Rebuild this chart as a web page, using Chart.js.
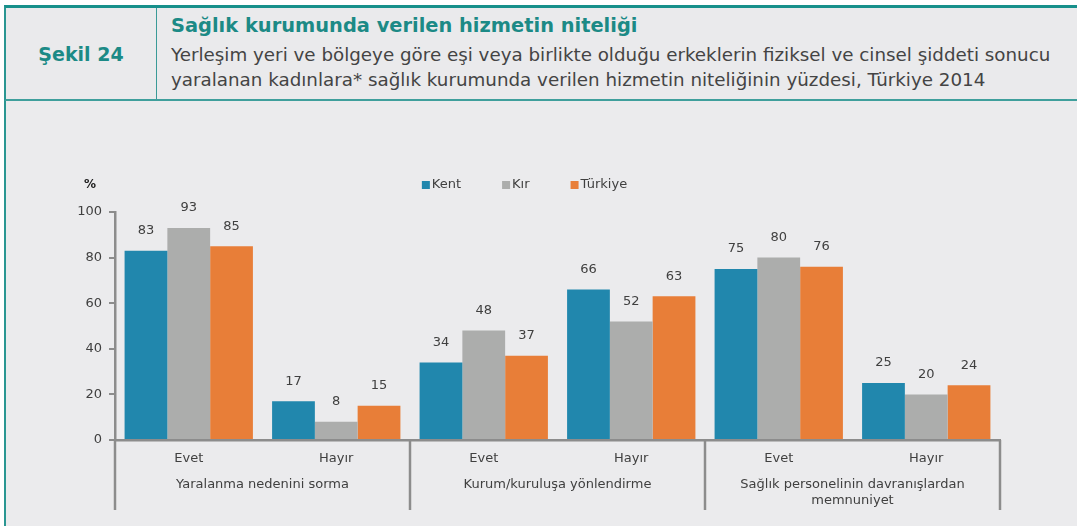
<!DOCTYPE html>
<html>
<head>
<meta charset="utf-8">
<script src="https://cdn.jsdelivr.net/npm/chart.js@4.4.1/dist/chart.umd.min.js"></script>
<style>
  html,body{margin:0;padding:0;background:#ffffff;}
  body{width:1077px;height:526px;position:relative;overflow:hidden;font-family:"DejaVu Sans",sans-serif;}
  #header{position:absolute;left:4px;top:5px;width:1073px;height:91px;background:#eaeaec;border-top:3px solid #17908b;border-left:2px solid #2a9692;border-bottom:2px solid #3f9f9c;}
  #leftcell{position:absolute;left:0;top:0;width:150px;height:91px;border-right:1px solid #3a9a97;display:flex;align-items:center;justify-content:center;color:#1c8a86;font-weight:bold;font-size:19px;}
  #title{position:absolute;left:165px;top:6px;color:#1c8a86;font-weight:bold;font-size:19px;white-space:nowrap;line-height:24px;}
  .sub{position:absolute;left:165px;color:#444444;font-size:16px;white-space:nowrap;line-height:22px;}
  #sub1{top:36px;}
  #sub2{top:61px;}
  #chartbox{position:absolute;left:4px;top:101px;width:1073px;height:425px;background:#ebebed;border-left:2px solid #2a9692;}
  #cv{position:absolute;left:0;top:0;}
</style>
</head>
<body>
<div id="header">
  <div id="leftcell">Şekil 24</div>
  <div id="title">Sağlık kurumunda verilen hizmetin niteliği</div>
  <div class="sub" id="sub1">Yerleşim yeri ve bölgeye göre eşi veya birlikte olduğu erkeklerin fiziksel ve cinsel şiddeti sonucu</div>
  <div class="sub" id="sub2">yaralanan kadınlara* sağlık kurumunda verilen hizmetin niteliğinin yüzdesi, Türkiye 2014</div>
</div>
<div id="chartbox"><canvas id="cv" width="1035" height="425"></canvas></div>
<script>
// ---- data ----
const subLabels = ["Evet", "Hayır", "Evet", "Hayır", "Evet", "Hayır"];
const groupLabels = [["Yaralanma nedenini sorma"], ["Kurum/kuruluşa yönlendirme"], ["Sağlık personelinin davranışlardan", "memnuniyet"]];
const seriesNames = ["Kent", "Kır", "Türkiye"];
const kent = [83, 17, 34, 66, 75, 25];
const kir = [93, 8, 48, 52, 80, 20];
const turkiye = [85, 15, 37, 63, 76, 24];
const yTickValues = [0, 20, 40, 60, 80, 100];
const colors = ["#2187ad", "#acadac", "#e87e38"];

// fit header text widths
function fitWidth(id, target) {
  const el = document.getElementById(id);
  const fs = parseFloat(getComputedStyle(el).fontSize);
  const w = el.getBoundingClientRect().width;
  el.style.fontSize = (fs * target / w) + "px";
}
fitWidth("title", 467);
fitWidth("sub1", 880);
document.getElementById("sub2").style.fontSize = document.getElementById("sub1").style.fontSize;

const FONT = "DejaVu Sans";
const FS = 13;
const TXT = "#404040";
const AXIS = "#8c8c8c";

const dataLabels = {
  id: "dataLabels",
  afterDatasetsDraw(chart) {
    const ctx = chart.ctx;
    ctx.save();
    ctx.font = FS + "px '" + FONT + "'";
    ctx.fillStyle = TXT;
    ctx.textAlign = "center";
    ctx.textBaseline = "middle";
    chart.data.datasets.forEach((ds, di) => {
      const meta = chart.getDatasetMeta(di);
      meta.data.forEach((el, i) => {
        ctx.fillText(String(ds.data[i]), el.x, el.y - 20);
      });
    });
    ctx.restore();
  }
};

const extras = {
  id: "extras",
  afterDraw(chart) {
    const ctx = chart.ctx;
    const x = chart.scales.x, x2 = chart.scales.x2, y = chart.scales.y;
    ctx.save();
    // group dividers
    ctx.strokeStyle = AXIS;
    ctx.lineWidth = 2.5;
    const bounds = [x.left];
    for (let i = 1; i < subLabels.length - 1; i += 2) {
      bounds.push((x.getPixelForValue(i) + x.getPixelForValue(i + 1)) / 2);
    }
    bounds.push(x.right);
    bounds.forEach(b => {
      ctx.beginPath();
      ctx.moveTo(b, x.top);
      ctx.lineTo(b, x2.bottom);
      ctx.stroke();
    });
    // % label
    ctx.fillStyle = "#222";
    ctx.font = "bold 12px '" + FONT + "'";
    ctx.textAlign = "center";
    ctx.textBaseline = "middle";
    ctx.fillText("%", y.right - 25, chart.chartArea.top - 27);
    // legend
    ctx.font = FS + "px '" + FONT + "'";
    ctx.textAlign = "left";
    const items = chart.data.datasets.map(d => ({ label: d.label, color: d.backgroundColor }));
    const box = 8, gapBox = 2, gap = 41;
    let total = 0;
    items.forEach((it, i) => { total += box + gapBox + ctx.measureText(it.label).width + (i < items.length - 1 ? gap : 0); });
    let lx = (chart.width) / 2 - total / 2 + 1;
    const ly = chart.chartArea.top - 27;
    items.forEach(it => {
      ctx.fillStyle = it.color;
      ctx.fillRect(lx, ly - box / 2, box, box);
      lx += box + gapBox;
      ctx.fillStyle = TXT;
      ctx.fillText(it.label, lx, ly);
      lx += ctx.measureText(it.label).width + gap;
    });
    ctx.restore();
  }
};

new Chart(document.getElementById("cv"), {
  type: "bar",
  data: {
    labels: subLabels,
    datasets: [
      { label: seriesNames[0], data: kent, backgroundColor: colors[0] },
      { label: seriesNames[1], data: kir, backgroundColor: colors[1] },
      { label: seriesNames[2], data: turkiye, backgroundColor: colors[2] }
    ]
  },
  options: {
    responsive: false,
    animation: false,
    layout: { autoPadding: false, padding: { left: 68, right: 41, top: 111, bottom: 16 } },
    datasets: { bar: { categoryPercentage: 0.87, barPercentage: 1.0 } },
    plugins: { legend: { display: false }, tooltip: { enabled: false } },
    scales: {
      x: {
        type: "category",
        position: "bottom",
        weight: 0,
        grid: { display: false, drawTicks: true, tickLength: 8 },
        border: { display: true, color: AXIS, width: 2.5 },
        ticks: { color: TXT, font: { family: FONT, size: FS }, padding: 3, maxRotation: 0, autoSkip: false },
        afterFit: s => { s.height = 26; }
      },
      x2: {
        type: "category",
        position: "bottom",
        weight: 1,
        labels: groupLabels,
        offset: true,
        grid: { display: false, drawTicks: false },
        border: { display: false },
        ticks: { color: TXT, font: { family: FONT, size: FS, lineHeight: 1.2 }, padding: 11, maxRotation: 0, autoSkip: false },
        afterFit: s => { s.height = 44; }
      },
      y: {
        min: 0, max: 100,
        afterBuildTicks: s => { s.ticks = yTickValues.map(v => ({ value: v })); },
        grid: { drawOnChartArea: false, drawTicks: true, tickLength: 6, color: AXIS, lineWidth: 2 },
        border: { display: true, color: AXIS, width: 2.5 },
        ticks: { color: TXT, font: { family: FONT, size: FS }, padding: 7 },
        afterFit: s => { s.width = 41; }
      }
    }
  },
  plugins: [dataLabels, extras]
});
</script>
</body>
</html>
